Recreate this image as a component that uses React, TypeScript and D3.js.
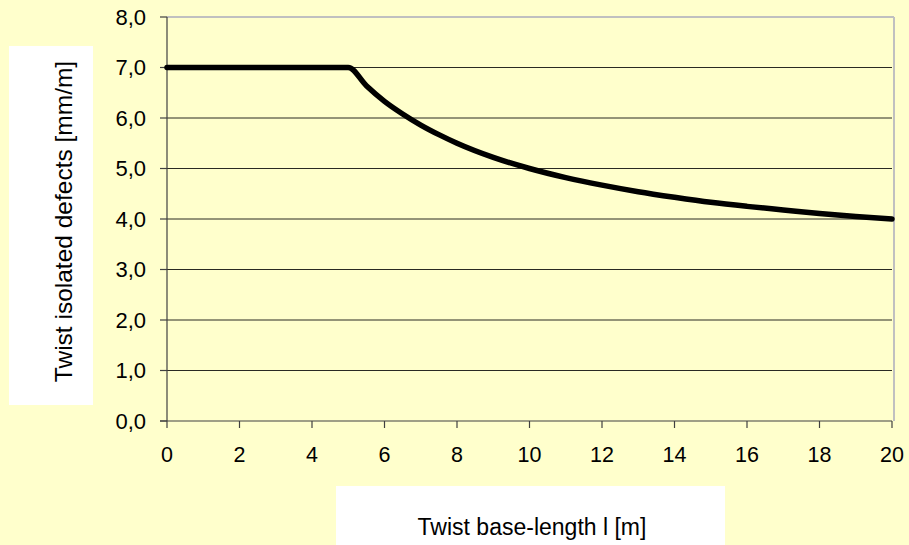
import React from "react";
import * as d3 from "d3";

const baseLength: number[] = [0, 1, 2, 3, 4, 5, 5.5, 6, 6.5, 7, 7.5, 8, 9, 10, 11, 12, 13, 14, 15, 16, 17, 18, 19, 20];
const twistLimit: number[] = [7, 7, 7, 7, 7, 7, 6.64, 6.33, 6.08, 5.86, 5.67, 5.5, 5.22, 5.0, 4.82, 4.67, 4.54, 4.43, 4.33, 4.25, 4.18, 4.11, 4.05, 4.0];
const xTicks: number[] = [0, 2, 4, 6, 8, 10, 12, 14, 16, 18, 20];
const yTicks: number[] = [0, 1, 2, 3, 4, 5, 6, 7, 8];
const yTitle = "Twist isolated defects [mm/m]";
const xTitle = "Twist base-length l [m]";

const W = 909;
const H = 545;
const BG = "#FFFFCC";
const FONT = "Arial, 'Liberation Sans', Helvetica, sans-serif";

export default function App() {
  const x = d3.scaleLinear().domain([0, 20]).range([167, 892]);
  const y = d3.scaleLinear().domain([0, 8]).range([421, 17]);
  const pts = baseLength.map((l, i) => [l, twistLimit[i]] as [number, number]);
  const line = d3
    .line<[number, number]>()
    .x((d) => x(d[0]))
    .y((d) => y(d[1]))
    .curve(d3.curveMonotoneX);
  const fmt = (v: number) => v.toFixed(1).replace(".", ",");

  return (
    <svg
      width={W}
      height={H}
      style={{ position: "absolute", left: 0, top: 0, display: "block" }}
      fontFamily={FONT}
    >
      <rect x={0} y={0} width={W} height={H} fill={BG} />
      {/* y title box */}
      <rect x={9} y={46} width={84} height={359} fill="#FFFFFF" />
      {/* x title box */}
      <rect x={336} y={486} width={389} height={H - 486} fill="#FFFFFF" />

      {/* gridlines */}
      {yTicks
        .filter((t) => t > 0 && t < 8)
        .map((t) => (
          <line key={"g" + t} x1={x(0)} x2={x(20)} y1={y(t)} y2={y(t)} stroke="#2a2a22" strokeWidth={1} />
        ))}
      {/* plot border top/right */}
      <line x1={x(0)} x2={x(20) + 2} y1={y(8)} y2={y(8)} stroke="#C0C0C0" strokeWidth={2} />
      <line x1={x(20) + 2} x2={x(20) + 2} y1={y(8)} y2={y(0)} stroke="#C0C0C0" strokeWidth={2} />

      {/* axes */}
      <line x1={x(0)} x2={x(0)} y1={y(8)} y2={y(0)} stroke="#404040" strokeWidth={1.2} />
      <line x1={x(0) - 7} x2={x(20)} y1={y(0)} y2={y(0)} stroke="#404040" strokeWidth={1.2} />
      {yTicks.map((t) => (
        <g key={"y" + t}>
          <line x1={x(0) - 7} x2={x(0)} y1={y(t)} y2={y(t)} stroke="#404040" strokeWidth={1.2} />
          <text x={146} y={y(t)} dy="0.36em" textAnchor="end" fontSize={22} fill="#000">
            {fmt(t)}
          </text>
        </g>
      ))}
      {xTicks.map((t) => (
        <g key={"x" + t}>
          <line x1={x(t)} x2={x(t)} y1={y(0)} y2={y(0) + 7} stroke="#404040" strokeWidth={1.2} />
          <text x={x(t)} y={462} textAnchor="middle" fontSize={21.5} fill="#000">
            {t}
          </text>
        </g>
      ))}

      {/* curve */}
      <path
        d={line(pts) || ""}
        fill="none"
        stroke="#000"
        strokeWidth={5.5}
        strokeLinecap="round"
        strokeLinejoin="round"
      />

      {/* titles */}
      <text
        transform={`translate(72,221.5) rotate(-90)`}
        textAnchor="middle"
        fontSize={24.5}
        fill="#000"
      >
        {yTitle}
      </text>
      <text x={532} y={535} textAnchor="middle" fontSize={23} fill="#000">
        {xTitle}
      </text>
    </svg>
  );
}
